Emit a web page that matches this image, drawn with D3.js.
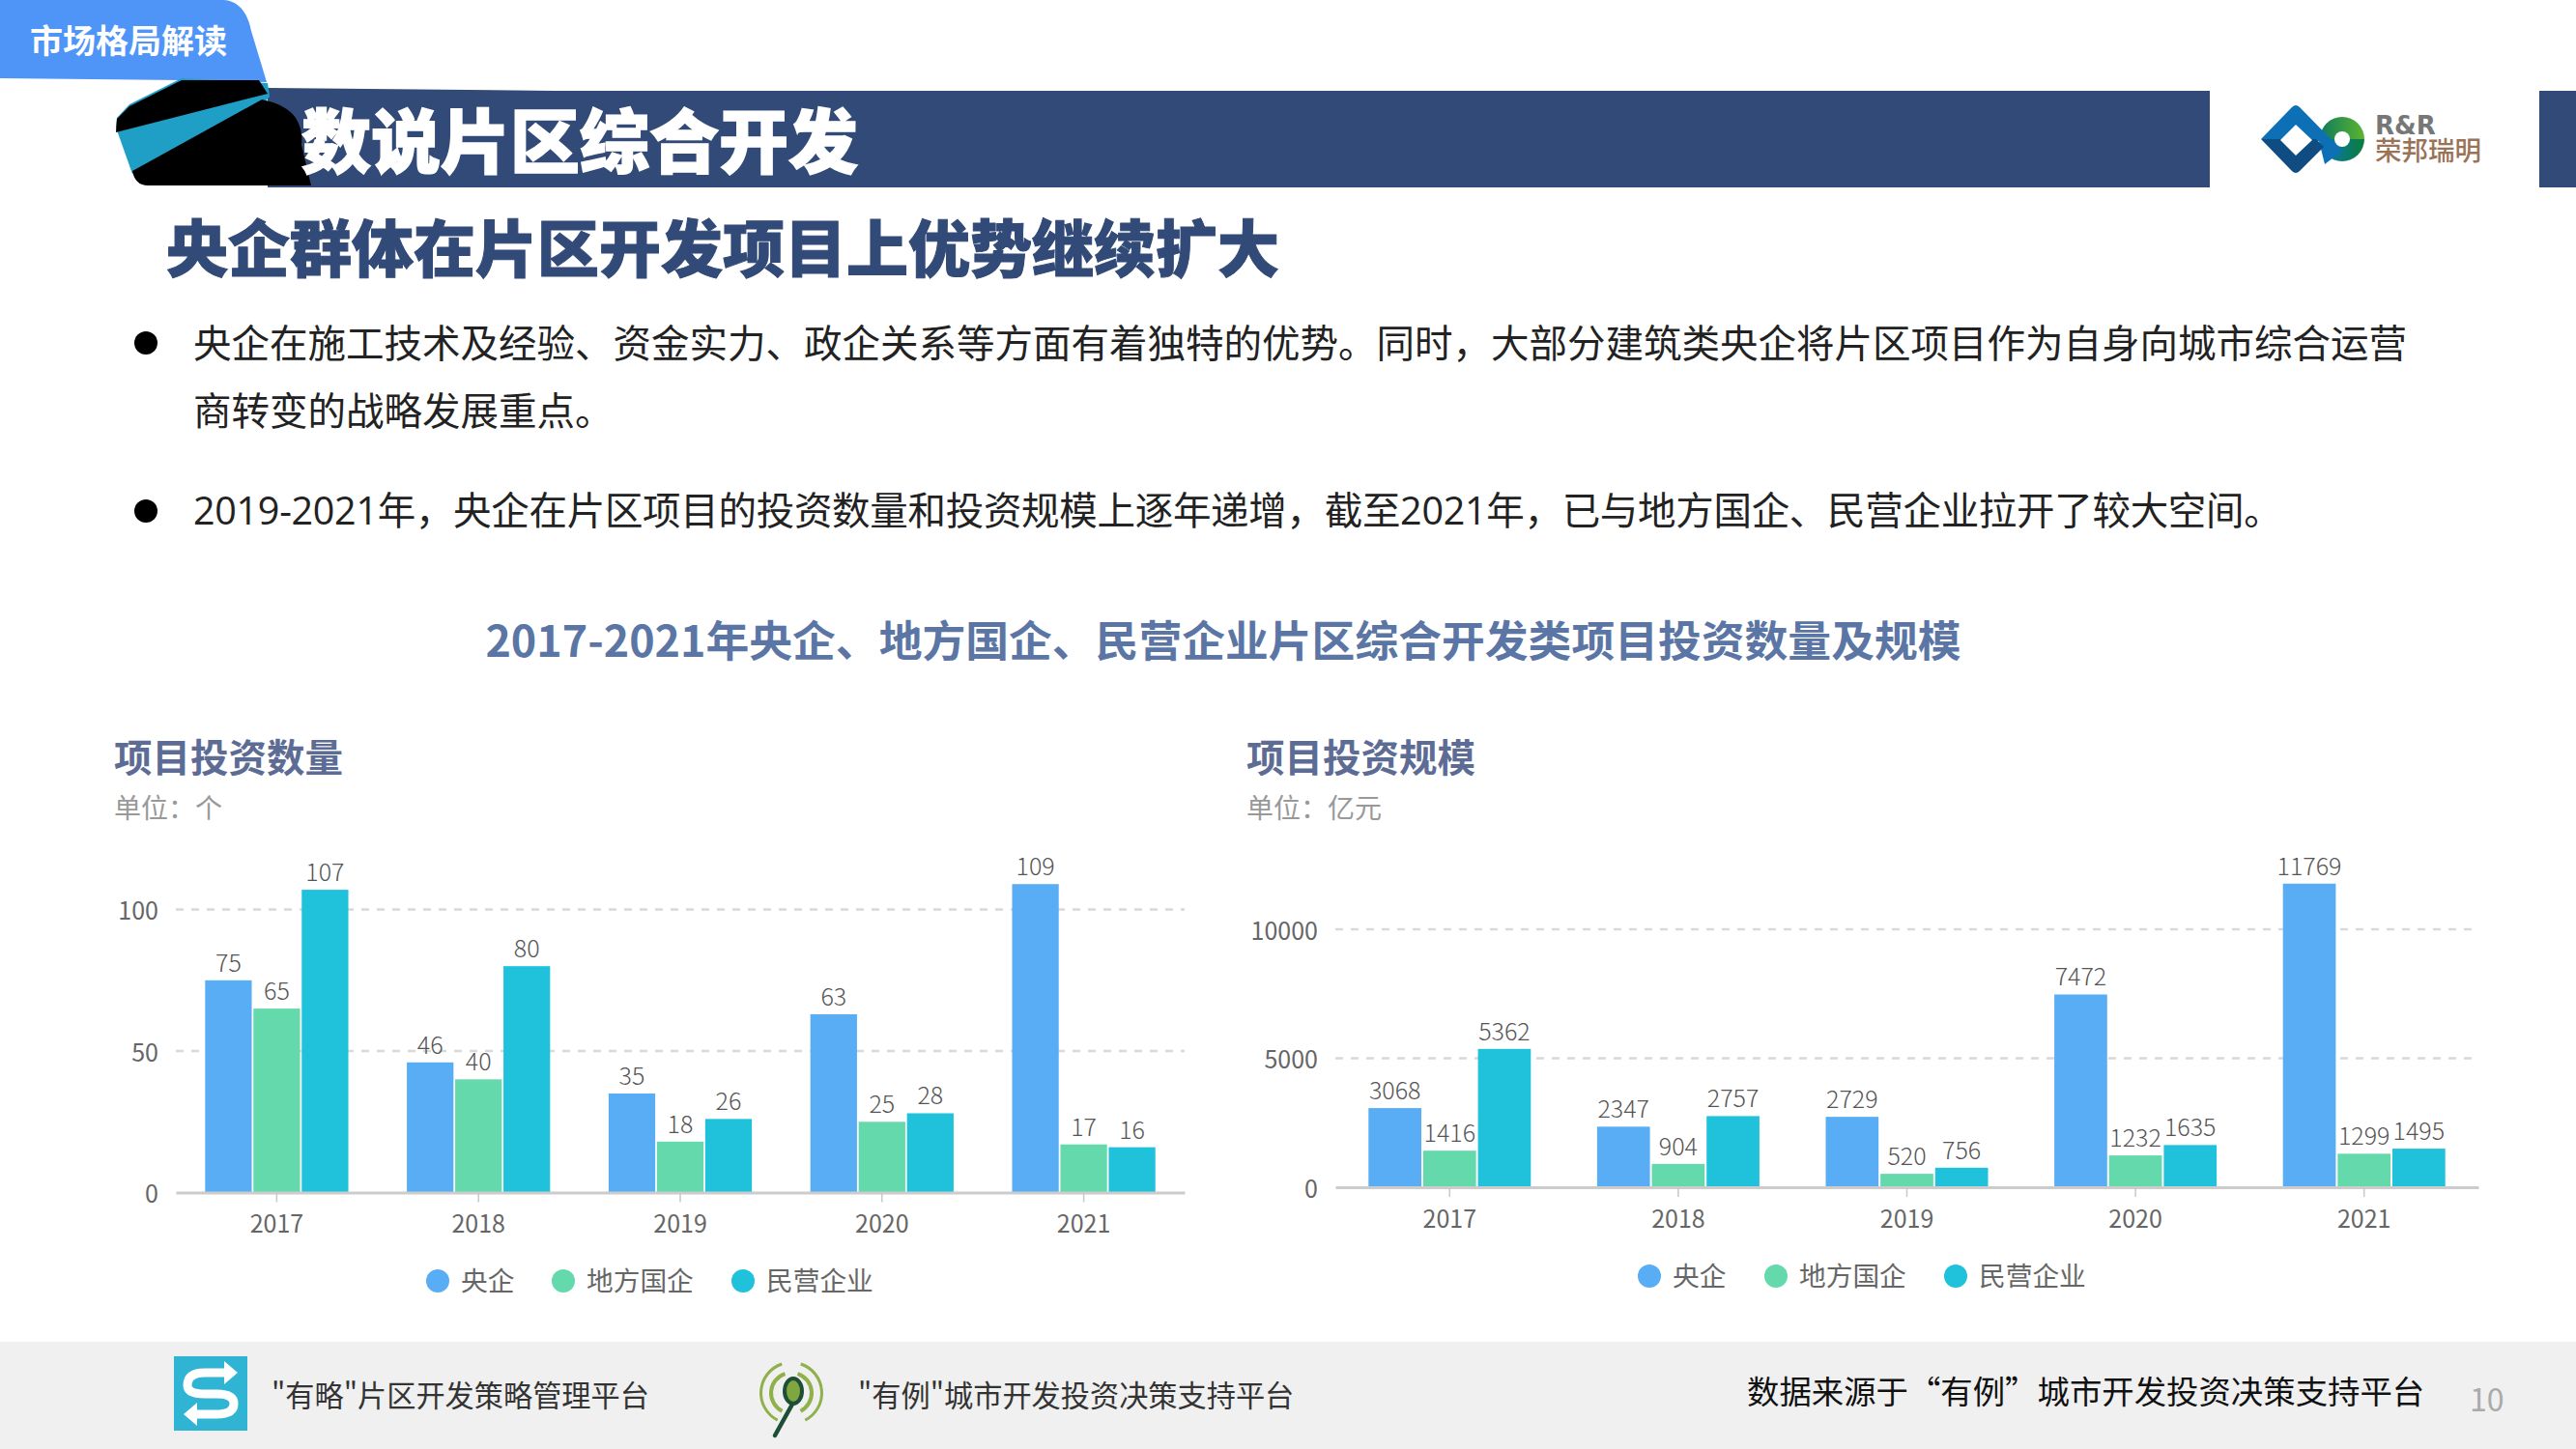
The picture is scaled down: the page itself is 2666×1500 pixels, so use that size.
<!DOCTYPE html>
<html lang="zh">
<head>
    <meta charset="UTF-8">
    <script src="https://d3js.org/d3.v7.min.js"></script>
    <title>数说片区综合开发</title>
    <style>
        body { margin: 0; background: #fff; }
        svg { display: block; }
        text { font-family: "Noto Sans CJK SC", "Noto Sans", sans-serif; }
    </style>
</head>
<body>
<svg id="page" width="2666" height="1500"></svg>
<script>
    // chart data
    var years = ["2017", "2018", "2019", "2020", "2021"];
    var seriesNames = ["央企", "地方国企", "民营企业"];
    var seriesColors = ["#58adf5", "#64d9ac", "#20c2db"];

    var countCentral = [75, 46, 35, 63, 109];
    var countLocal = [65, 40, 18, 25, 17];
    var countPrivate = [107, 80, 26, 28, 16];

    var scaleCentral = [3068, 2347, 2729, 7472, 11769];
    var scaleLocal = [1416, 904, 520, 1232, 1299];
    var scalePrivate = [5362, 2757, 756, 1635, 1495];

    var countTicks = [0, 50, 100];
    var scaleTicks = [0, 5000, 10000];

    var bodyLines = [
        "央企在施工技术及经验、资金实力、政企关系等方面有着独特的优势。同时，大部分建筑类央企将片区项目作为自身向城市综合运营",
        "商转变的战略发展重点。",
        "2019-2021年，央企在片区项目的投资数量和投资规模上逐年递增，截至2021年，已与地方国企、民营企业拉开了较大空间。"
    ];

    var navy = "#324a77";
    var svg = d3.select("#page");

    function label(x, y, str, size, color, weight, anchor) {
        return svg.append("text")
            .attr("x", x)
            .attr("y", y)
            .attr("dy", "-0.07em")
            .attr("font-size", size)
            .attr("fill", color)
            .attr("font-weight", weight || 400)
            .attr("text-anchor", anchor || "start")
            .attr("dominant-baseline", "central")
            .text(str);
    }

    function poly(points, fill) {
        svg.append("path").attr("d", d3.line().curve(d3.curveLinearClosed)(points)).attr("fill", fill);
    }

    //header
    poly([[277, 91], [574, 94], [2287, 94], [2287, 194], [277, 194]], navy);
    svg.append("rect").attr("x", 2628).attr("y", 94).attr("width", 38).attr("height", 100).attr("fill", navy);
    svg.append("path")
        .attr("d", "M0 0H232Q254 2 260 32L276 85L188 83L0 81Z")
        .attr("fill", "#4f95f7");
    label(31, 43, "市场格局解读", 34, "#fff", 700);

    poly([[188, 81], [277, 86], [279, 100], [272, 108], [137, 180], [120, 132], [121, 122], [134, 108]], "#1f9fc6");
    poly([[188, 83], [268, 83], [277, 97], [120, 137], [121, 123], [134, 110]], "#000");
    svg.append("path")
        .attr("d", "M271 103Q296 108 306 122Q314 135 312 150L322 192H153Q140 192 137 177Z")
        .attr("fill", "#000");
    label(312, 147, "数说片区综合开发", 72, "#fff", 900)
        .attr("stroke", "#fff").attr("stroke-width", 1.5);

    label(172, 257, "央企群体在片区开发项目上优势继续扩大", 64, navy, 900)
        .attr("stroke", navy).attr("stroke-width", 1);

    //logo
    var logo = svg.append("g");
    var logoDefs = svg.append("defs");
    var ringGrad = logoDefs.append("linearGradient").attr("id", "ringTop");
    ringGrad.append("stop").attr("offset", "0").attr("stop-color", "#0f7a5c");
    ringGrad.append("stop").attr("offset", "1").attr("stop-color", "#5cb531");
    var ringGrad2 = logoDefs.append("linearGradient").attr("id", "ringBottom");
    ringGrad2.append("stop").attr("offset", "0").attr("stop-color", "#0b75b8");
    ringGrad2.append("stop").attr("offset", "1").attr("stop-color", "#0b7d3b");
    logo.append("path").attr("d", "M2401 144A23 23 0 0 1 2447 144Z").attr("fill", "url(#ringTop)");
    logo.append("path").attr("d", "M2401 144A23 23 0 0 0 2447 144Z").attr("fill", "url(#ringBottom)");
    logo.append("path")
        .attr("d", "M2340 144L2372 111Q2376 107 2380 111L2424 156L2406 170L2400 146Z")
        .attr("fill", "#0d6fb6");
    logo.append("path")
        .attr("d", "M2340 144L2372 177Q2376 181 2380 177L2405 152L2397 144Z")
        .attr("fill", "#0f4c81");
    logo.append("path").attr("d", "M2376 129L2393 145L2376 161L2360 145Z").attr("fill", "#fff");
    logo.append("circle").attr("cx", 2424).attr("cy", 144).attr("r", 8).attr("fill", "#fff");
    var logoText = logo.append("text");
    logoText.append("tspan")
        .attr("x", 2458).attr("y", 139)
        .attr("font-size", 26).attr("font-weight", 700).attr("fill", "#777")
        .style("font-family", "'DejaVu Sans'")
        .text("R&R");
    logoText.append("tspan")
        .attr("x", 2458).attr("y", 166)
        .attr("font-size", 27.5).attr("font-weight", 500).attr("fill", "#9a7357")
        .text("荣邦瑞明");

    //bullets
    [355, 529].forEach(function (cy) {
        svg.append("circle").attr("cx", 151).attr("cy", cy).attr("r", 12).attr("fill", "#000");
    });
    label(200, 355, bodyLines[0], 39.5, "#222");
    label(200, 425, bodyLines[1], 39.5, "#222");
    label(200, 531, bodyLines[2], 39.5, "#222")
        .style("font-family", "'Open Sans', 'Noto Sans CJK SC'")
        .attr("letter-spacing", -0.3);

    label(1266, 664, "2017-2021年央企、地方国企、民营企业片区综合开发类项目投资数量及规模", 44.8, "#5b76a5", 700, "middle");

    //charts
    function drawChart(cfg) {
        label(cfg.titleX, 784, cfg.title, 39.5, "#5d6c95", 700);
        label(cfg.titleX, 837, cfg.unit, 28, "#999");

        var x0 = d3.scaleBand().domain(years).range(cfg.xRange).paddingInner(0.29).paddingOuter(0.145);
        var x1 = d3.scaleBand().domain(seriesNames).range([0, x0.bandwidth()]).paddingInner(0.035);
        var y = d3.scaleLinear().domain(cfg.yDomain).range(cfg.yRange);

        var yAxis = svg.append("g")
            .attr("transform", "translate(" + cfg.xRange[0] + ",0)")
            .call(d3.axisLeft(y).tickValues(cfg.ticks).tickSize(0).tickPadding(18).tickFormat(d3.format("d")));
        yAxis.select(".domain").remove();
        yAxis.selectAll("text").attr("font-size", 25).attr("fill", "#666").attr("font-family", null).attr("y", 2);

        svg.append("g").selectAll("line").data(cfg.ticks.slice(1)).enter().append("line")
            .attr("x1", cfg.xRange[0])
            .attr("x2", cfg.xRange[1])
            .attr("y1", function (d) { return y(d); })
            .attr("y2", function (d) { return y(d); })
            .attr("stroke", "#d9d9d9")
            .attr("stroke-width", 2.5)
            .attr("stroke-dasharray", "8 8");

        cfg.series.forEach(function (values, i) {
            var g = svg.append("g");
            g.selectAll("rect").data(values).enter().append("rect")
                .attr("x", function (d, j) { return x0(years[j]) + x1(seriesNames[i]); })
                .attr("y", function (d) { return y(d); })
                .attr("width", x1.bandwidth())
                .attr("height", function (d) { return y(0) - y(d); })
                .attr("fill", seriesColors[i]);
            g.selectAll("text").data(values).enter().append("text")
                .attr("x", function (d, j) { return x0(years[j]) + x1(seriesNames[i]) + x1.bandwidth() / 2; })
                .attr("y", function (d) { return y(d) - 9; })
                .attr("text-anchor", "middle")
                .attr("font-size", 25)
                .attr("font-weight", 300)
                .attr("fill", "#555")
                .text(function (d) { return d; });
        });

        var xAxis = svg.append("g")
            .attr("transform", "translate(0," + cfg.yRange[0] + ")")
            .call(d3.axisBottom(x0).tickSizeInner(10).tickSizeOuter(0).tickPadding(14));
        xAxis.select(".domain").attr("stroke", "#ccc").attr("stroke-width", 3);
        xAxis.selectAll("line").attr("stroke", "#c8c8c8").attr("stroke-width", 1.5);
        xAxis.selectAll("text").attr("font-size", 25).attr("fill", "#666").attr("font-family", null);

        seriesNames.forEach(function (name, i) {
            svg.append("circle")
                .attr("cx", cfg.legendX[i])
                .attr("cy", cfg.legendY)
                .attr("r", 12)
                .attr("fill", seriesColors[i]);
            label(cfg.legendX[i] + 24, cfg.legendY, name, 27.7, "#666");
        });
    }

    drawChart({
        title: "项目投资数量",
        unit: "单位：个",
        titleX: 118,
        xRange: [182, 1226],
        yDomain: [0, 120],
        yRange: [1234.5, 883],
        ticks: countTicks,
        series: [countCentral, countLocal, countPrivate],
        legendX: [453, 583, 769],
        legendY: 1326
    });

    drawChart({
        title: "项目投资规模",
        unit: "单位：亿元",
        titleX: 1290,
        xRange: [1382, 2565],
        yDomain: [0, 12000],
        yRange: [1229, 908.6],
        ticks: scaleTicks,
        series: [scaleCentral, scaleLocal, scalePrivate],
        legendX: [1707, 1838, 2024],
        legendY: 1321
    });

    //footer
    svg.append("rect").attr("x", 0).attr("y", 1389).attr("width", 2666).attr("height", 111).attr("fill", "#f0f0f0");

    svg.append("rect").attr("x", 180).attr("y", 1404).attr("width", 76).attr("height", 77).attr("fill", "#2fb5d3");
    svg.append("path")
        .attr("d", "M236 1421H212Q194 1421 194 1434Q194 1443 212 1443H224Q242 1443 242 1453Q242 1464 224 1464H200")
        .attr("fill", "none").attr("stroke", "#fff").attr("stroke-width", 9);
    svg.append("path").attr("d", "M232 1409L246 1421L232 1433Z").attr("fill", "#fff");
    svg.append("path").attr("d", "M204 1452L190 1464L204 1476Z").attr("fill", "#fff");

    var ringArc = d3.arc();
    [[19, 23], [30, 33]].forEach(function (r) {
        [[-0.85, -0.1], [0.1, 0.85]].forEach(function (side) {
            svg.append("path")
                .attr("transform", "translate(819,1442)")
                .attr("d", ringArc({
                    innerRadius: r[0],
                    outerRadius: r[1],
                    startAngle: side[0] * Math.PI,
                    endAngle: side[1] * Math.PI
                }))
                .attr("fill", "#8fb04a");
        });
    });
    svg.append("line").attr("x1", 822).attr("y1", 1450).attr("x2", 802).attr("y2", 1486)
        .attr("stroke", "#1c4f36").attr("stroke-width", 4.5).attr("stroke-linecap", "round");
    svg.append("ellipse").attr("cx", 821).attr("cy", 1440).attr("rx", 9).attr("ry", 13)
        .attr("fill", "#7fa63f").attr("stroke", "#1c4f36").attr("stroke-width", 4);

    label(281, 1445, "\"有略\"片区开发策略管理平台", 30.2, "#333");
    label(888, 1445, "\"有例\"城市开发投资决策支持平台", 30.2, "#333");
    label(1808, 1441, "数据来源于“有例”城市开发投资决策支持平台", 33.4, "#111");
    label(2556, 1449, "10", 32, "#aaa");
</script>
</body>
</html>
